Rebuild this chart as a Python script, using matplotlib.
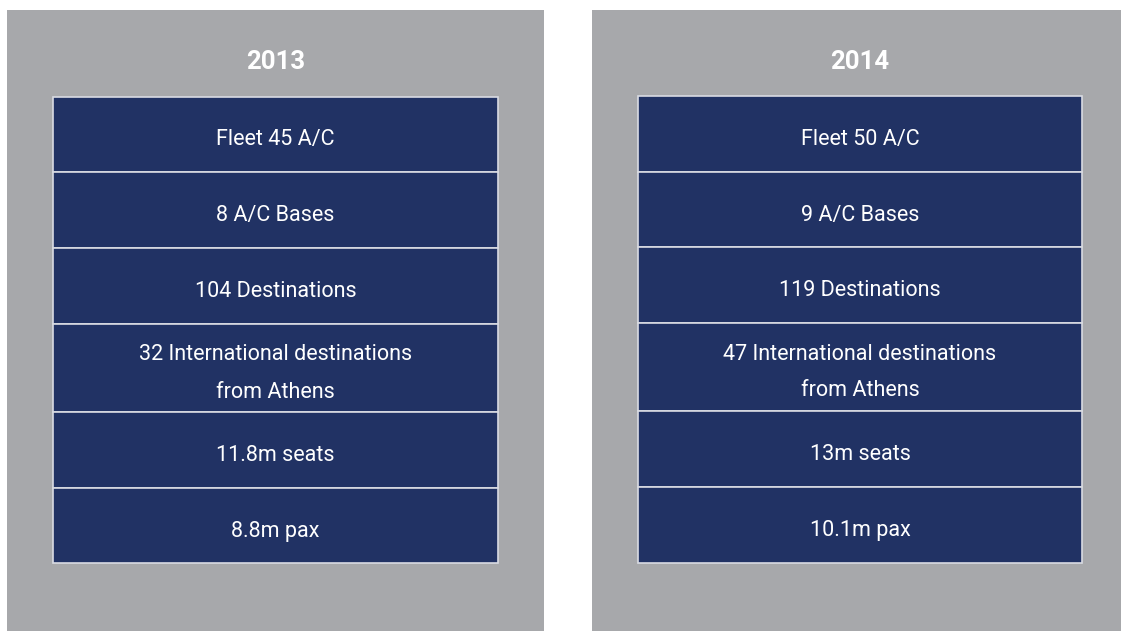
import matplotlib
matplotlib.use("Agg")
import matplotlib.pyplot as plt
from matplotlib.patches import Rectangle

YEARS = ["2013", "2014"]
ITEMS_2013 = [
    "Fleet 45 A/C",
    "8 A/C Bases",
    "104 Destinations",
    "32 International destinations\nfrom Athens",
    "11.8m seats",
    "8.8m pax",
]
ITEMS_2014 = [
    "Fleet 50 A/C",
    "9 A/C Bases",
    "119 Destinations",
    "47 International destinations\nfrom Athens",
    "13m seats",
    "10.1m pax",
]

GREY = "#a7a8ab"
NAVY = "#213264"
W, H = 1121, 631
LINE_PITCH = 37   # px between baselines of wrapped lines

# panel layout in pixels: (panel_x0, panel_x1, box_x0, box_x1, row edges)
PANELS = [
    (7, 544, 53, 498, [97, 172, 248, 324, 412, 488, 563]),
    (592, 1121, 638, 1082, [96, 172, 247, 323, 411, 487, 563]),
]

fig = plt.figure(figsize=(W / 100, H / 100), dpi=100)
ax = fig.add_axes([0, 0, 1, 1])
ax.set_xlim(0, W)
ax.set_ylim(H, 0)
ax.axis("off")

for year, items, (px0, px1, bx0, bx1, edges) in zip(YEARS, [ITEMS_2013, ITEMS_2014], PANELS):
    ax.add_patch(Rectangle((px0, 10), px1 - px0, H - 10, facecolor=GREY, edgecolor="none"))
    cx = (bx0 + bx1) / 2
    ax.text(cx, 69, year, color="white", fontsize=18.5, fontweight="bold",
            family="Roboto", ha="center", va="baseline")
    for label, top, bottom in zip(items, edges[:-1], edges[1:]):
        ax.add_patch(Rectangle((bx0, top), bx1 - bx0, bottom - top,
                               facecolor=NAVY, edgecolor="#d9dbe3", linewidth=1.2))
        lines = label.split("\n")
        mid = (top + bottom) / 2 + 11
        for i, line in enumerate(lines):
            y = mid + (i - (len(lines) - 1) / 2) * LINE_PITCH
            ax.text(cx, y, line, color="white", fontsize=15.5, family="Roboto",
                    ha="center", va="baseline")

fig.savefig("out.png", dpi=100)
